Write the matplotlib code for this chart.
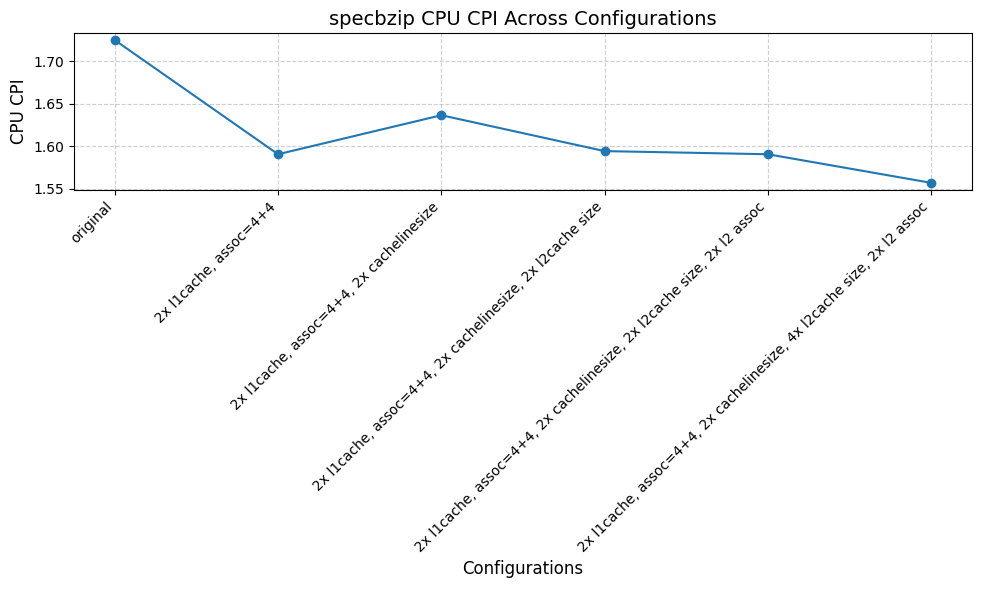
import matplotlib.pyplot as plt

configs = [
    "original",
    "2x l1cache, assoc=4+4",
    "2x l1cache, assoc=4+4, 2x cachelinesize",
    "2x l1cache, assoc=4+4, 2x cachelinesize, 2x l2cache size",
    "2x l1cache, assoc=4+4, 2x cachelinesize, 2x l2cache size, 2x l2 assoc",
    "2x l1cache, assoc=4+4, 2x cachelinesize, 4x l2cache size, 2x l2 assoc",
]
cpi = [1.725, 1.5905, 1.6365, 1.5942, 1.5905, 1.5568]

fig, ax = plt.subplots(figsize=(9.81, 5.9), dpi=100)

ax.plot(configs, cpi, marker='o', color='#1f77b4')

ax.set_title("specbzip CPU CPI Across Configurations", fontsize=14)
ax.set_xlabel("Configurations", fontsize=12)
ax.set_ylabel("CPU CPI", fontsize=12)
plt.xticks(rotation=45, ha='right')
ax.grid(True, linestyle='--', alpha=0.6)

# axes placement
fig.subplots_adjust(left=0.0754, right=0.9908, top=0.9441, bottom=0.678)
plt.savefig('out.png', dpi=100)
